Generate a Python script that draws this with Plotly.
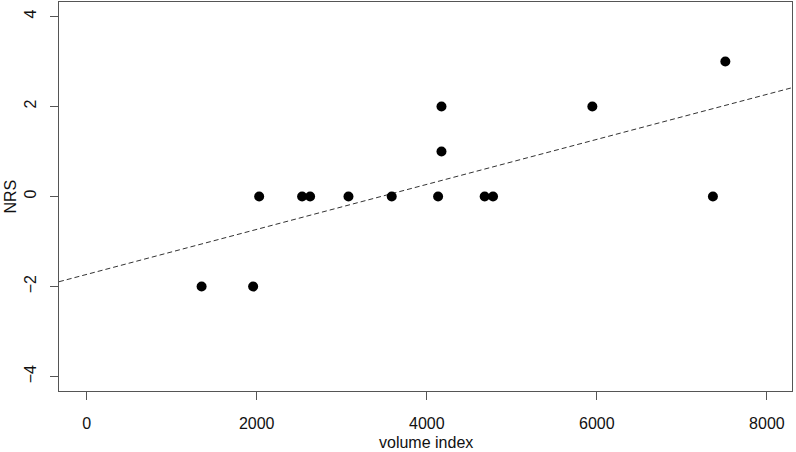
import numpy as np
import plotly.graph_objects as go

volume_index = [1352, 1958, 2029, 2534, 2628, 3079, 3588, 4133, 4173, 4173,
                4681, 4779, 5947, 7365, 7511]
nrs = [-2, -2, 0, 0, 0, 0, 0, 0, 1, 2, 0, 0, 2, 0, 3]
x_ticks = [0, 2000, 4000, 6000, 8000]
y_ticks = [-4, -2, 0, 2, 4]

x_range = [-325, 8295]
y_range = [-4.32, 4.32]

slope, intercept = np.polyfit(volume_index, nrs, 1)
line_x = np.array(x_range, dtype=float)
line_y = intercept + slope * line_x

FONT = "Liberation Sans, Arial, sans-serif"
AX = "#555555"
TXT = "#111111"

fig = go.Figure()
fig.add_trace(go.Scatter(x=line_x, y=line_y, mode="lines",
                         line=dict(color="#333333", width=1, dash="5px,3px"),
                         hoverinfo="skip", showlegend=False))
fig.add_trace(go.Scatter(x=volume_index, y=nrs, mode="markers",
                         marker=dict(color="#000000", size=10),
                         showlegend=False))

axis_common = dict(showgrid=False, zeroline=False, showline=True, mirror=True,
                   linecolor=AX, linewidth=1, ticks="outside", ticklen=8,
                   tickcolor=AX, tickwidth=1, automargin=False,
                   tickfont=dict(family=FONT, size=16, color=TXT))

fig.update_layout(
    width=796, height=452,
    margin=dict(l=59, r=4, t=2, b=61),
    plot_bgcolor="white", paper_bgcolor="white",
    xaxis=dict(range=x_range, tickvals=x_ticks, ticklabelstandoff=10,
               **axis_common),
    yaxis=dict(range=y_range, tickvals=y_ticks, tickangle=-90,
               ticklabelstandoff=8, **axis_common),
    annotations=[
        dict(text="volume index", xref="paper", yref="paper", x=0.5, y=0,
             xanchor="center", yanchor="middle", yshift=-51, borderpad=0,
             showarrow=False, font=dict(family=FONT, size=16, color=TXT)),
        dict(text="NRS", xref="paper", yref="paper", x=0, y=0.5,
             xanchor="center", yanchor="middle", xshift=-49, textangle=-90,
             borderpad=0, showarrow=False,
             font=dict(family=FONT, size=16, color=TXT)),
    ],
)

fig.write_html("out.html", config={"displayModeBar": False},
               post_script="document.body.style.margin='0';")
